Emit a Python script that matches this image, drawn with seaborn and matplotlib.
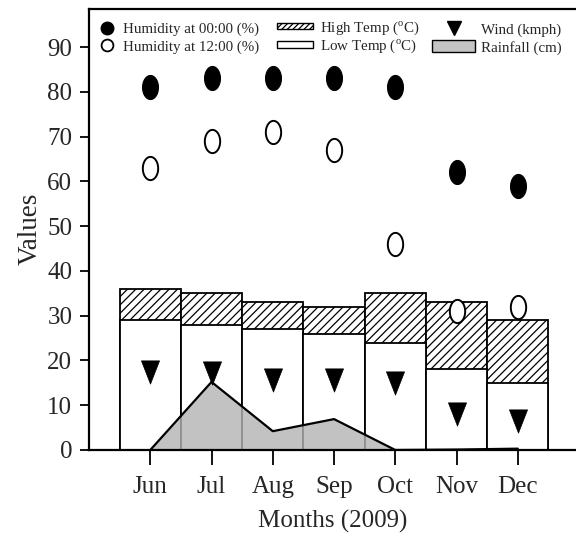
import numpy as np
import pandas as pd
import matplotlib
matplotlib.use("Agg")
import matplotlib.pyplot as plt
from matplotlib.path import Path
from matplotlib.lines import Line2D
from matplotlib.patches import Patch
import seaborn as sns

months = ["Jun", "Jul", "Aug", "Sep", "Oct", "Nov", "Dec"]
high_temp = [36, 35, 33, 32, 35, 33, 29]
low_temp = [29, 28, 27, 26, 24, 18, 15]
humidity_00 = [81, 83, 83, 83, 81, 62, 59]
humidity_12 = [63, 69, 71, 67, 46, 31, 32]
wind = [17.5, 17.2, 15.6, 15.6, 15.0, 8.0, 6.5]
rainfall = [0.0, 15.2, 4.2, 6.9, 0.0, 0.1, 0.3]
y_ticks = [0, 10, 20, 30, 40, 50, 60, 70, 80, 90]

sns.set_style("ticks")
plt.rcParams["font.family"] = ["Liberation Serif", "DejaVu Serif"]
plt.rcParams["mathtext.fontset"] = "custom"
plt.rcParams["mathtext.rm"] = "Liberation Serif"
plt.rcParams["hatch.color"] = "black"
plt.rcParams["hatch.linewidth"] = 0.9

df = pd.DataFrame({"month": months, "high": high_temp, "low": low_temp,
                   "h00": humidity_00, "h12": humidity_12, "wind": wind,
                   "rain": rainfall})
df["pos"] = np.arange(len(months))

fig = plt.figure(figsize=(5.76, 5.35), dpi=100)
ax = fig.add_axes([89 / 576, 85 / 535, 487 / 576, 441.5 / 535])

sns.barplot(data=df, x="month", y="high", color="white", saturation=1,
            edgecolor="black", linewidth=1.3, width=1.0, hatch="////",
            ax=ax, zorder=1)
sns.barplot(data=df, x="month", y="low", color="white", saturation=1,
            edgecolor="black", linewidth=1.3, width=1.0, ax=ax, zorder=1.1)

ax.fill_between(df["pos"], df["rain"], 0, color="#b3b3b3", alpha=0.8,
                linewidth=0, zorder=2.5)
sns.lineplot(data=df, x="pos", y="rain", color="black", linewidth=1.6,
             ax=ax, zorder=3)

t = np.linspace(0, 2 * np.pi, 80)
ellipse = Path(np.column_stack([0.33 * np.cos(t), 0.5 * np.sin(t)]), closed=True)
tri = Path([(-0.39, 0.5), (0.39, 0.5), (0.0, -0.5), (-0.39, 0.5)], closed=True)

sns.scatterplot(data=df, x="pos", y="h00", marker=ellipse, s=300,
                color="black", edgecolor="black", linewidth=0.8, ax=ax, zorder=4)
sns.scatterplot(data=df, x="pos", y="h12", marker=ellipse, s=280,
                facecolor="white", edgecolor="black", linewidth=1.4, ax=ax, zorder=4)
sns.scatterplot(data=df, x="pos", y="wind", marker=tri, s=280,
                color="black", edgecolor="black", linewidth=0.5, ax=ax, zorder=4)

ax.set_xlim(-1, 6.95)
ax.set_ylim(0, 98.6)
ax.set_yticks(y_ticks)
ax.set_xticks(df["pos"])
ax.set_xticklabels(months)
ax.set_xlabel("Months (2009)", fontsize=18, labelpad=8)
ax.set_ylabel("Values", fontsize=19.5, labelpad=3)
ax.tick_params(axis="y", labelsize=18, length=6.5, width=1.3, pad=5.5, color="black")
ax.tick_params(axis="x", labelsize=18, length=11, width=1.3, pad=8, color="black")

for side in ["left", "top", "bottom"]:
    ax.spines[side].set_linewidth(1.6)
    ax.spines[side].set_color("black")
ax.spines["right"].set_visible(False)

fs = 10.8
ytop = 0.968
leg1 = ax.legend(handles=[
    Line2D([], [], marker="o", linestyle="none", markersize=9,
           markerfacecolor="black", markeredgecolor="black"),
    Line2D([], [], marker="o", linestyle="none", markersize=8.5,
           markerfacecolor="white", markeredgecolor="black", markeredgewidth=1.3)],
    labels=["Humidity at 00:00 (%)", "Humidity at 12:00 (%)"],
    loc="upper left", bbox_to_anchor=(10 / 487, ytop), frameon=False,
    fontsize=fs, handlelength=1.0, handletextpad=0.58, labelspacing=0.25,
    borderpad=0, borderaxespad=0)
ax.add_artist(leg1)
leg2 = ax.legend(handles=[
    Patch(facecolor="white", edgecolor="black", hatch="//////", linewidth=1.0),
    Patch(facecolor="white", edgecolor="black", linewidth=1.0)],
    labels=[r"High Temp ($^{\rm o}$C)", r"Low Temp ($^{\rm o}$C)"],
    loc="upper left", bbox_to_anchor=(188 / 487, 0.976), frameon=False,
    fontsize=fs, handlelength=2.4, handleheight=0.3, handletextpad=0.47,
    labelspacing=0.05, borderpad=0, borderaxespad=0)
ax.add_artist(leg2)
ax.legend(handles=[
    Line2D([], [], marker="v", linestyle="none", markersize=10.5,
           markerfacecolor="black", markeredgecolor="black"),
    Patch(facecolor="#c4c4c4", edgecolor="black", linewidth=1.0)],
    labels=["Wind (kmph)", "Rainfall (cm)"],
    loc="upper left", bbox_to_anchor=(343 / 487, ytop), frameon=False,
    fontsize=fs, handlelength=2.87, handleheight=0.8, handletextpad=0.4,
    labelspacing=0.25, borderpad=0, borderaxespad=0)

fig.savefig("out.png", dpi=100)
